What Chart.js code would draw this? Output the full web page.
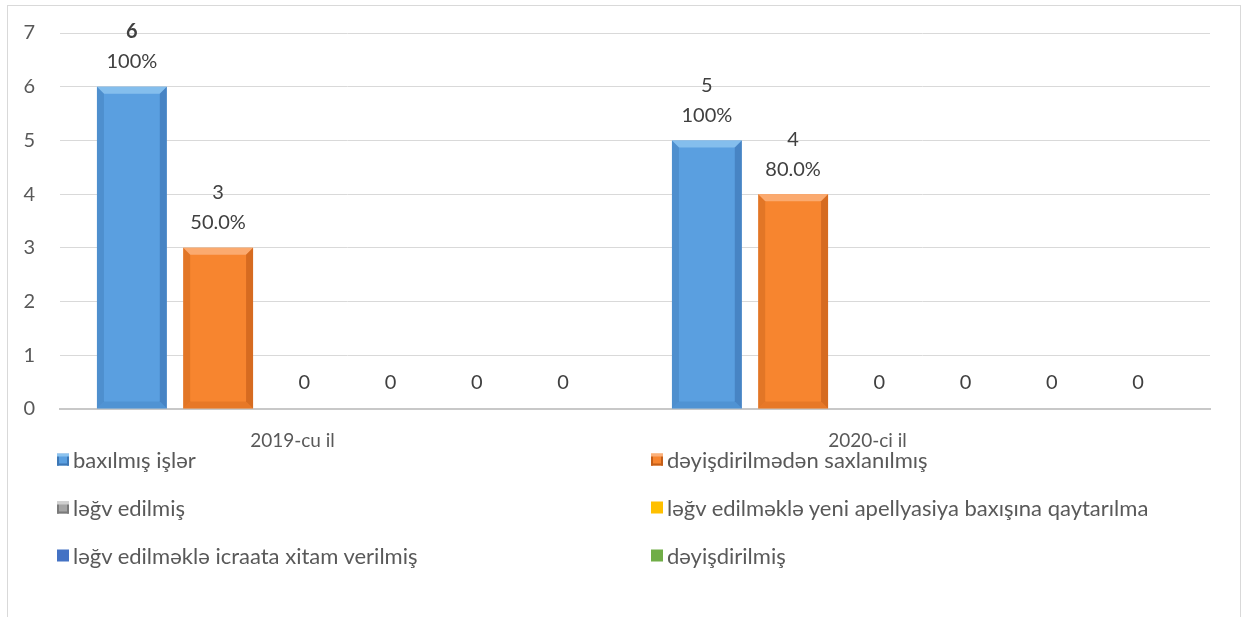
<!DOCTYPE html>
<html>
<head>
<meta charset="utf-8">
<script src="https://cdn.jsdelivr.net/npm/chart.js@4.4.1/dist/chart.umd.min.js"></script>
<style>
  body { margin: 0; background: #fff; }
  #wrap { position: relative; width: 1248px; height: 617px; overflow: hidden; }
  #frame { position: absolute; left: 7px; top: 5px; width: 1232px; height: 700px; border: 1px solid #d9d9d9; }
  #chart { position: absolute; left: 0; top: 0; }
  .leg { position: absolute; display: flex; align-items: center; font: 22px Lato, sans-serif; color: #595959; white-space: nowrap; transform: translateY(-50%); }
  .leg i { display: inline-block; width: 12px; height: 12px; margin-right: 4px; }
</style>
</head>
<body>
<div id="wrap">
  <div id="frame"></div>
  <canvas id="chart" width="1248" height="617"></canvas>
  <div id="legend"></div>
</div>
<script>
// Datos
var categorias = ['2019-cu il', '2020-ci il'];
var baxilmis = [6, 5];
var deyisdirilmeden = [3, 4];
var legvEdilmis = [0, 0];
var legvYeniBaxis = [0, 0];
var legvXitam = [0, 0];
var deyisdirilmis = [0, 0];
var ticksY = [0, 1, 2, 3, 4, 5, 6, 7];

var FONT = '20px Lato, sans-serif';

// Series (color de cara, bisel claro, bisel oscuro)
var series = [
    { label: 'baxılmış işlər', data: baxilmis, color: '#5a9fe0', light: '#8cc3ef', dark: '#3d77b5' },
    { label: 'dəyişdirilmədən saxlanılmış', data: deyisdirilmeden, color: '#f7852f', light: '#fbb07a', dark: '#c45e18' },
    { label: 'ləğv edilmiş', data: legvEdilmis, color: '#a5a5a5', light: '#d0d0d0', dark: '#7a7a7a' },
    { label: 'ləğv edilməklə yeni apellyasiya baxışına qaytarılma', data: legvYeniBaxis, color: '#ffc000', light: null, dark: null },
    { label: 'ləğv edilməklə icraata xitam verilmiş', data: legvXitam, color: '#4472c4', light: null, dark: null },
    { label: 'dəyişdirilmiş', data: deyisdirilmis, color: '#70ad47', light: null, dark: null }
];

// Bisel de las barras
var biselPlugin = {
    id: 'bisel',
    afterDatasetsDraw: function (chart) {
        var ctx = chart.ctx;
        chart.data.datasets.forEach(function (ds, di) {
            if (!ds.light) return;
            chart.getDatasetMeta(di).data.forEach(function (bar) {
                var l = bar.x - bar.width / 2, r = bar.x + bar.width / 2;
                var t = bar.y, b = bar.base, e = 7;
                if (b - t < 2 * e) return;
                function poly(pts, fill) {
                    ctx.beginPath();
                    ctx.moveTo(pts[0], pts[1]);
                    for (var k = 2; k < pts.length; k += 2) ctx.lineTo(pts[k], pts[k + 1]);
                    ctx.closePath();
                    ctx.fillStyle = fill;
                    ctx.fill();
                }
                ctx.save();
                ctx.globalAlpha = 0.85;
                poly([l, t, r, t, r - e, t + e, l + e, t + e], ds.light);
                ctx.globalAlpha = 0.4;
                poly([l, t, l + e, t + e, l + e, b - e, l, b], ds.dark);
                ctx.globalAlpha = 0.65;
                poly([r, t, r - e, t + e, r - e, b - e, r, b], ds.dark);
                ctx.globalAlpha = 0.3;
                poly([l, b, l + e, b - e, r - e, b - e, r, b], ds.dark);
                ctx.restore();
            });
        });
    }
};

// Etiquetas de valor y porcentaje
var etiquetasPlugin = {
    id: 'etiquetas',
    afterDatasetsDraw: function (chart) {
        var ctx = chart.ctx;
        ctx.save();
        ctx.textAlign = 'center';
        ctx.textBaseline = 'middle';
        ctx.fillStyle = '#404040';
        chart.data.datasets.forEach(function (ds, di) {
            chart.getDatasetMeta(di).data.forEach(function (bar, i) {
                var v = ds.data[i];
                ctx.font = FONT;
                if (v === 0) {
                    ctx.fillText('0', bar.x, bar.y - 26);
                    return;
                }
                var pct = v === baxilmis[i] ? '100%' : (v / baxilmis[i] * 100).toFixed(1) + '%';
                ctx.fillText(pct, bar.x, bar.y - 25);
                ctx.font = (di === 0 && i === 0 ? 'bold ' : '') + FONT;
                ctx.fillText(String(v), bar.x, bar.y - 55);
            });
        });
        ctx.restore();
    }
};

var config = {
    type: 'bar',
    data: {
        labels: categorias,
        datasets: series.map(function (s) {
            return {
                label: s.label,
                data: s.data,
                backgroundColor: s.color,
                borderWidth: 0,
                light: s.light,
                dark: s.dark,
                categoryPercentage: 0.9,
                barPercentage: 0.81
            };
        })
    },
    options: {
        responsive: false,
        animation: false,
        layout: { padding: { left: 0, top: 33, right: 38, bottom: 158 } },
        plugins: {
            legend: { display: false },
            tooltip: { enabled: false }
        },
        scales: {
            x: {
                grid: { display: false },
                border: { display: true, color: '#c8c8c8', width: 2 },
                ticks: { color: '#595959', font: { family: 'Lato', size: 19 }, padding: 12, labelOffset: -55 },
                afterFit: function (s) { s.height = 50; }
            },
            y: {
                min: 0,
                max: 7,
                grid: { color: '#d9d9d9', lineWidth: 1, drawTicks: false },
                border: { display: false },
                afterBuildTicks: function (s) { s.ticks = ticksY.map(function (v) { return { value: v }; }); },
                ticks: { color: '#595959', font: { family: 'Lato', size: 20 }, padding: 25 },
                afterFit: function (s) {
                    s.width = 60;
                    s.paddingTop = 12;
                    s.paddingBottom = 12;
                }
            }
        }
    },
    plugins: [biselPlugin, etiquetasPlugin]
};

var ctxChart = document.getElementById('chart').getContext('2d');
var grafico = new Chart(ctxChart, config);

// Leyenda en dos columnas
var leyenda = document.getElementById('legend');
series.forEach(function (s, k) {
    var item = document.createElement('div');
    item.className = 'leg';
    item.style.left = (k % 2 === 0 ? 57 : 651) + 'px';
    item.style.top = (459 + Math.floor(k / 2) * 48) + 'px';
    var box = document.createElement('i');
    box.style.background = s.color;
    if (s.light) {
        box.style.boxShadow = 'inset 0 3px 0 ' + s.light + ', inset 2px 0 0 ' + s.dark + ', inset -2px 0 0 ' + s.dark + ', inset 0 -2px 0 ' + s.dark;
    }
    item.appendChild(box);
    item.appendChild(document.createTextNode(s.label));
    leyenda.appendChild(item);
});
</script>
</body>
</html>
